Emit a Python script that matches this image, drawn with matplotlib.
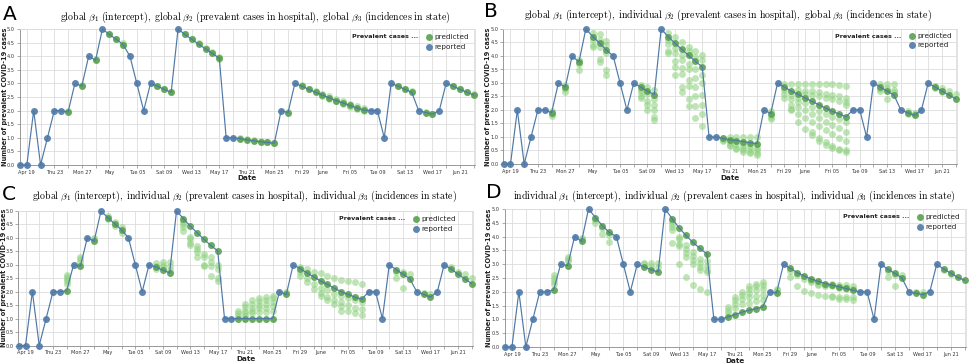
import numpy as np
import pandas as pd
import matplotlib
matplotlib.use("Agg")
import matplotlib.pyplot as plt
from matplotlib.lines import Line2D

plt.rcParams['font.family'] = ['DejaVu Sans']
plt.rcParams['mathtext.fontset'] = 'cm'

W, H = 969, 364

# ---------------- data ----------------
dates = pd.date_range("2020-04-18", "2020-06-23", freq="D")
N = None
reported = [0, 0, 2, 0, 1, 2, 2, N, 3, N, 4, N, 5, N, N, N, 4, 3, 2, 3, N, N, N, 5,
            N, N, N, N, N, N, 1, 1, N, N, N, N, N, N, 2, N, 3,
            N, N, N, N, N, N, N, N, N, N, 2, 2, 1, 3, N, N, N, 2, N, N, 2, 3, N, N, N, N]

pred_A = [1.95, 2.90, 3.85, 4.80, 4.62, 4.43, 2.90, 2.78, 2.67, 4.80, 4.62, 4.44, 4.27, 4.10, 3.93,
          0.97, 0.93, 0.89, 0.86, 0.83, 0.80, 1.93, 2.90, 2.78, 2.67, 2.57, 2.47, 2.37, 2.28, 2.19,
          2.10, 2.02, 2.90, 2.78, 2.67, 1.93, 1.87, 2.90, 2.78, 2.68, 2.58]
cloud_A = [[1.97], [2.93], [3.88], [4.82], [4.64], [4.47, 4.40], [2.92], [2.80], [2.70],
           [4.82], [4.64], [4.47], [4.30], [4.14], [3.98, 3.90],
           [0.98], [0.95], [0.91], [0.88], [0.85], [0.82], [1.95],
           [2.93], [2.81], [2.71], [2.62, 2.55], [2.52, 2.44], [2.43, 2.34], [2.34, 2.24],
           [2.26, 2.15], [2.17, 2.06], [2.09, 1.98], [2.92], [2.81], [2.71], [1.95], [1.89],
           [2.92], [2.80], [2.70], [2.60]]

pred_B = [1.90, 2.85, 3.78, 4.72, 4.48, 4.22, 2.85, 2.70, 2.57, 4.72, 4.48, 4.25, 4.02, 3.80, 3.60,
          0.95, 0.90, 0.87, 0.83, 0.79, 0.75, 1.87, 2.85, 2.70, 2.58, 2.45, 2.32, 2.20, 2.07, 1.95,
          1.85, 1.75, 2.85, 2.70, 2.55, 1.90, 1.80, 2.85, 2.70, 2.55, 2.42]
cloud_B = [
    [1.78, 1.85, 1.95], [2.65, 2.78, 2.92], [3.48, 3.70, 3.85],
    [4.85, 4.60, 4.42, 4.35], [4.80, 4.60, 4.35, 3.88, 3.77], [4.55, 4.40, 4.10, 3.48, 3.30],
    [2.92, 2.75, 2.65, 2.50, 2.44], [2.85, 2.60, 2.35, 2.20, 2.00], [2.75, 2.40, 2.20, 2.00, 1.75, 1.62],
    [4.85, 4.60, 4.45, 4.20, 4.10], [4.70, 4.30, 4.10, 3.80, 3.58, 3.30],
    [4.50, 4.05, 3.85, 3.55, 3.35, 2.85, 2.65], [4.35, 4.20, 3.70, 3.50, 3.10, 2.90, 2.40, 2.15],
    [4.20, 3.95, 3.50, 3.20, 2.85, 2.50, 2.15, 1.70], [4.05, 3.85, 3.30, 3.00, 2.55, 2.20, 1.85, 1.42],
    [0.90, 0.85], [1.00, 0.80, 0.70, 0.65], [1.00, 0.75, 0.60, 0.55], [1.00, 0.70, 0.60, 0.50, 0.45],
    [1.00, 0.65, 0.55, 0.45, 0.40], [1.00, 0.60, 0.50, 0.40, 0.35],
    [1.95, 1.75, 1.65],
    [2.95, 2.75, 2.60, 2.45], [2.95, 2.55, 2.40, 2.20, 2.05, 2.00],
    [2.95, 2.75, 2.45, 2.30, 2.10, 1.85, 1.55], [2.95, 2.70, 2.60, 2.25, 2.00, 1.70, 1.30],
    [2.95, 2.70, 2.55, 2.10, 1.85, 1.55, 1.20, 1.07], [2.95, 2.65, 2.50, 1.95, 1.70, 1.40, 0.95, 0.85],
    [2.95, 2.60, 2.45, 1.85, 1.55, 1.25, 0.80, 0.70], [2.95, 2.55, 2.40, 1.75, 1.45, 1.10, 0.65, 0.60],
    [2.92, 2.50, 2.35, 1.65, 1.35, 0.95, 0.55, 0.50], [2.90, 2.45, 2.30, 2.20, 1.55, 1.20, 0.85, 0.50, 0.45],
    [2.95, 2.78, 2.72], [2.95, 2.80, 2.42], [2.95, 2.75, 2.65],
    [1.95, 1.85], [1.90, 1.85],
    [2.90, 2.80], [2.80, 2.65], [2.70], [2.60]]

pred_C = [2.03, 2.95, 3.88, 4.75, 4.52, 4.30, 2.92, 2.80, 2.70, 4.72, 4.44, 4.19, 3.95, 3.72, 3.52,
          1.00, 1.00, 1.00, 1.00, 1.00, 1.00, 1.90, 2.86, 2.70, 2.55, 2.40, 2.27, 2.13, 2.00, 1.90,
          1.80, 1.72, 2.82, 2.65, 2.48, 1.90, 1.80, 2.85, 2.65, 2.48, 2.30]
cloud_C = [
    [2.30, 2.40, 2.48, 2.55, 2.62], [3.10, 3.20, 3.30], [4.00, 3.95],
    [4.80, 4.70], [4.60, 4.45], [4.40, 4.20],
    [3.05, 2.95, 2.85], [3.10, 3.00, 2.90], [3.10, 2.95, 2.80],
    [4.60, 4.50, 4.40, 4.25], [4.05, 3.95, 3.82, 3.73], [3.70, 3.60, 3.48, 3.30],
    [3.40, 3.30, 3.00, 2.95], [3.30, 3.10, 2.95, 2.60], [3.00, 2.85, 2.50, 2.40],
    [1.10, 1.20, 1.28], [1.10, 1.20, 1.30, 1.42, 1.53], [1.20, 1.30, 1.40, 1.55, 1.68],
    [1.25, 1.38, 1.50, 1.65, 1.75], [1.25, 1.40, 1.55, 1.70, 1.80], [1.30, 1.45, 1.60, 1.75, 1.85],
    [2.00, 1.95],
    [2.92, 2.72, 2.60], [2.85, 2.50, 2.35], [2.75, 2.30, 2.10], [2.70, 2.15, 1.95, 1.85],
    [2.60, 2.05, 1.80, 1.70], [2.50, 1.90, 1.70, 1.55], [2.45, 1.85, 1.60, 1.45, 1.30],
    [2.40, 1.75, 1.50, 1.30], [2.35, 1.70, 1.40, 1.20], [2.30, 1.60, 1.35, 1.15],
    [2.75, 2.52], [2.75, 2.12], [2.65],
    [1.95], [1.90],
    [2.90], [2.75], [2.65], [2.50]]

pred_D = [2.07, 2.95, 3.83, 4.69, 4.39, 4.15, 2.90, 2.80, 2.72, 4.65, 4.32, 4.04, 3.79, 3.57, 3.37,
          1.09, 1.17, 1.26, 1.33, 1.39, 1.45, 1.96, 2.85, 2.69, 2.57, 2.46, 2.38, 2.30, 2.24, 2.18,
          2.12, 2.05, 2.81, 2.67, 2.50, 1.95, 1.90, 2.82, 2.68, 2.52, 2.42]
cloud_D = [
    [2.30, 2.40, 2.50, 2.60], [3.10, 3.20, 3.25], [3.95, 3.90],
    [4.60, 4.50], [4.30, 4.08], [4.05, 3.79],
    [3.05, 3.00], [3.05, 2.95], [3.05, 2.90],
    [4.55, 4.45, 4.35, 4.25, 3.78], [4.00, 3.90, 3.75, 3.65, 3.01], [3.70, 3.55, 3.40, 3.25, 2.54],
    [3.45, 3.30, 3.15, 3.00, 2.26], [3.20, 3.05, 2.90, 2.80, 2.09], [3.10, 2.95, 2.80, 2.70, 2.00],
    [1.25, 1.35, 1.45], [1.40, 1.55, 1.70, 1.80], [1.55, 1.75, 1.90, 2.00],
    [1.60, 1.80, 1.95, 2.10, 2.20], [1.65, 1.85, 2.05, 2.20, 2.30], [1.70, 1.90, 2.10, 2.25, 2.35],
    [2.05, 2.10],
    [2.75, 2.52], [2.60, 2.22], [2.45, 2.03], [2.40, 2.35, 1.94], [2.30, 2.25, 1.90],
    [2.25, 2.20, 1.85], [2.30, 2.20, 1.85, 1.80], [2.25, 2.15, 1.80, 1.75], [2.25, 2.10, 1.80, 1.75],
    [2.20, 2.10, 1.80, 1.70],
    [2.75, 2.52], [2.60, 2.20], [2.60],
    [2.00], [2.00],
    [2.80], [2.65], [], []]

panel_letters = ["A", "B", "C", "D"]
beta_kinds = [["global", "global", "global"],
              ["global", "individual", "global"],
              ["global", "individual", "individual"],
              ["individual", "individual", "individual"]]
preds = [pred_A, pred_B, pred_C, pred_D]
clouds = [cloud_A, cloud_B, cloud_C, cloud_D]

# ---------------- styling / layout ----------------
BLUE = "#4e79a7"
GREEN = "#59a14f"
LGREEN = "#8cd17d"
MS = 25

layout = [
    dict(rect=(19.6, 29, 475, 165), title=(255, 17), letter=(3, 5), ylab=5, date=178),
    dict(rect=(503.3, 29, 957, 164), title=(728, 15), letter=(484, 2), ylab=488, date=177.5),
    dict(rect=(18.3, 211, 473, 345.5), title=(245, 196), letter=(2, 185), ylab=4, date=359),
    dict(rect=(504.6, 209, 966, 347), title=(734, 196), letter=(486, 183), ylab=489, date=361),
]
legend_pos = [(429, 37, 47), (912, 36, 45), (416, 219, 229), (920, 217, 227)]

fig = plt.figure(figsize=(W / 100, H / 100), dpi=100)

def fx(x):
    return x / W

def fy(y):
    return 1 - y / H

day_num = np.arange(len(dates))
pred_days = [i for i, v in enumerate(reported) if v is None]
rep_days = [i for i, v in enumerate(reported) if v is not None]

tick_idx = [i for i, d in enumerate(dates) if d.day % 2 == 1]
def fmt(d):
    if d.day == 1:
        return d.strftime("%B")
    if d.dayofweek == 6:
        return d.strftime("%b %d")
    return d.strftime("%a %d")

def make_title(kinds):
    k1, k2, k3 = kinds
    return (r"$\mathrm{%s}\ \beta_1\ \mathrm{(intercept),\ %s}\ \beta_2\ "
            r"\mathrm{(prevalent\ cases\ in\ hospital),\ %s}\ \beta_3\ "
            r"\mathrm{(incidences\ in\ state)}$" % (k1, k2, k3))

for p in range(4):
    L = layout[p]
    l, t, r, b = L["rect"]
    ax = fig.add_axes([fx(l), fy(b), (r - l) / W, (b - t) / H])
    ax.set_xlim(-0.05, 66.2)
    ax.set_ylim(0, 5)

    full = list(reported)
    for j, d in enumerate(pred_days):
        full[d] = preds[p][j]
    cx, cy = [], []
    for j, d in enumerate(pred_days):
        for v in clouds[p][j]:
            cx.append(d)
            cy.append(v)
    ax.scatter(cx, cy, s=MS, color=LGREEN, alpha=0.55, linewidths=0, zorder=3, clip_on=False)
    ax.scatter(pred_days, [full[d] for d in pred_days], s=MS, color=GREEN, alpha=0.9,
               linewidths=0, zorder=4, clip_on=False)
    ax.plot(day_num, full, color=BLUE, lw=0.85, zorder=5, clip_on=False)
    ax.scatter(rep_days, [full[d] for d in rep_days], s=MS, color=BLUE, alpha=0.9,
               linewidths=0, zorder=6, clip_on=False)

    ax.set_xticks(tick_idx)
    ax.set_xticklabels([fmt(dates[i]) if k % 2 == 0 else "" for k, i in enumerate(tick_idx)])
    ax.set_yticks(np.arange(0, 5.01, 0.5))
    ax.set_yticklabels(["%.1f" % v for v in np.arange(0, 5.01, 0.5)])
    ax.tick_params(axis="both", labelsize=3.6, length=2.5, width=0.5, color="#888888",
                   labelcolor="#333333", pad=1.0)
    ax.grid(True, color="#dddddd", lw=0.6)
    ax.set_axisbelow(True)
    for s in ["left", "bottom"]:
        ax.spines[s].set_color("#888888")
        ax.spines[s].set_linewidth(0.6)
    for s in ["top", "right"]:
        ax.spines[s].set_color("#dddddd")
        ax.spines[s].set_linewidth(0.6)

    fig.text(fx((l + r) / 2), fy(L["date"]), "Date", ha="center", va="center",
             fontsize=5.2, fontweight="bold", color="#222222")
    fig.text(fx(L["ylab"]), fy((t + b) / 2), "Number of prevalent COVID-19 cases",
             ha="center", va="center", rotation=90, fontsize=4.8, fontweight="bold",
             color="#222222")
    fig.text(fx(L["title"][0]), fy(L["title"][1]), make_title(beta_kinds[p]),
             ha="center", va="center", fontsize=7.1)
    fig.text(fx(L["letter"][0]), fy(L["letter"][1]), panel_letters[p], ha="left", va="top",
             fontsize=14.5)

    lx, y1, y2 = legend_pos[p]
    fig.add_artist(Line2D([fx(lx)], [fy(y1)], marker="o", markersize=5, color=GREEN,
                          alpha=0.9, markeredgewidth=0, transform=fig.transFigure))
    fig.add_artist(Line2D([fx(lx)], [fy(y2)], marker="o", markersize=5, color=BLUE,
                          alpha=0.9, markeredgewidth=0, transform=fig.transFigure))
    fig.text(fx(lx + 5.5), fy(y1), "predicted", ha="left", va="center", fontsize=5.2,
             color="#222222")
    fig.text(fx(lx + 5.5), fy(y2), "reported", ha="left", va="center", fontsize=5.2,
             color="#222222")
    fig.text(fx(lx - 11), fy(y1), "Prevalent cases ...", ha="right", va="center",
             fontsize=4.6, fontweight="bold", color="#222222")

fig.savefig("out.png", dpi=100, facecolor="white")
